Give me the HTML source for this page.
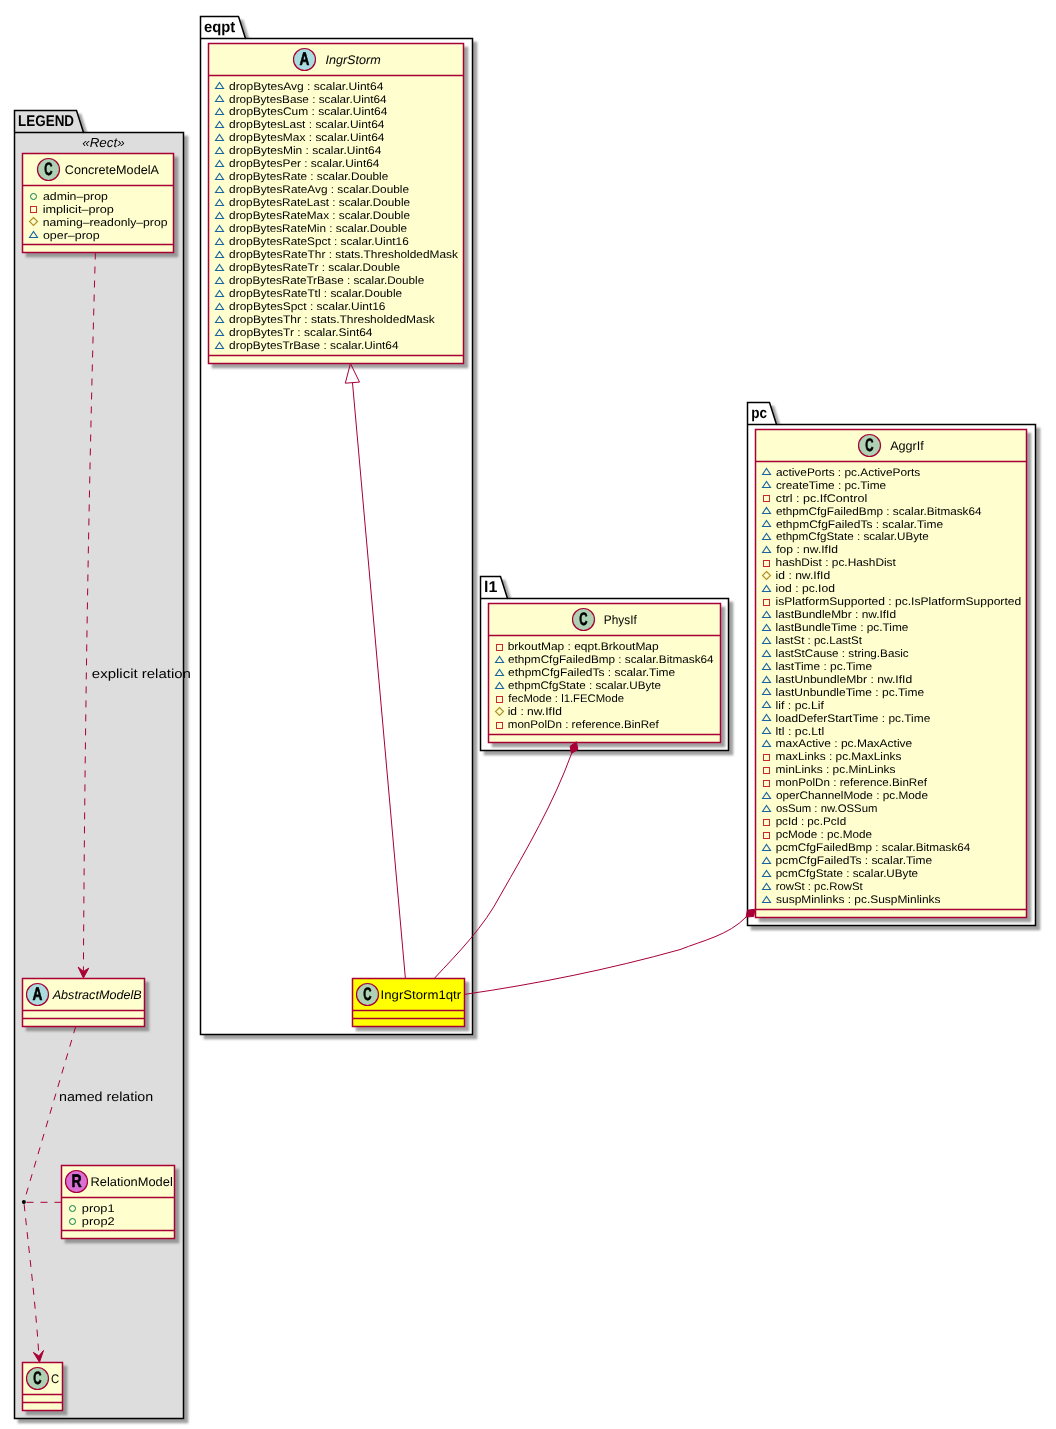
<!DOCTYPE html>
<html><head><meta charset="utf-8"><style>html,body{margin:0;padding:0;background:#fff;}svg{display:block;will-change:transform;}text{text-rendering:geometricPrecision;}</style></head>
<body><svg width="1056" height="1429" viewBox="0 0 1056 1429">
<defs><filter id="sh" color-interpolation-filters="sRGB" x="-20%" y="-20%" width="140%" height="140%"><feGaussianBlur in="SourceAlpha" stdDeviation="0.9"/><feColorMatrix type="matrix" values="0 0 0 0 0.47 0 0 0 0 0.47 0 0 0 0 0.47 0 0 0 .7 0"/><feOffset dx="4" dy="4" result="s"/><feMerge><feMergeNode in="s"/><feMergeNode in="SourceGraphic"/></feMerge></filter></defs>
<rect x="0" y="0" width="1056" height="1429" fill="#FFFFFF"/>
<path d="M14.5,110.5 L76.5,110.5 L83.5,132.5 L183.5,132.5 L183.5,1418.5 L14.5,1418.5 Z" fill="#DDDDDD" stroke="#000000" stroke-width="1.5" filter="url(#sh)"/>
<line x1="14.5" y1="132.5" x2="83.5" y2="132.5" stroke="#000000" stroke-width="1.5"/>
<text x="18.11" y="125.85" font-size="15.5" style="font-family:&quot;Liberation Sans&quot;,sans-serif;font-weight:bold;" fill="#000000" textLength="55.94" lengthAdjust="spacingAndGlyphs">LEGEND</text>
<text x="82.20" y="147.30" font-size="13" style="font-family:&quot;Liberation Sans&quot;,sans-serif;font-style:italic;" fill="#000000" textLength="42.40" lengthAdjust="spacingAndGlyphs">«Rect»</text>
<path d="M200.5,16.5 L238.5,16.5 L245.5,38.5 L472.5,38.5 L472.5,1034.5 L200.5,1034.5 Z" fill="#FFFFFF" stroke="#000000" stroke-width="1.5" filter="url(#sh)"/>
<line x1="200.5" y1="38.5" x2="245.5" y2="38.5" stroke="#000000" stroke-width="1.5"/>
<text x="203.92" y="31.80" font-size="15.5" style="font-family:&quot;Liberation Sans&quot;,sans-serif;font-weight:bold;" fill="#000000" textLength="31.25" lengthAdjust="spacingAndGlyphs">eqpt</text>
<path d="M480.5,576.5 L500.5,576.5 L507.5,598.5 L728.5,598.5 L728.5,750.5 L480.5,750.5 Z" fill="#FFFFFF" stroke="#000000" stroke-width="1.5" filter="url(#sh)"/>
<line x1="480.5" y1="598.5" x2="507.5" y2="598.5" stroke="#000000" stroke-width="1.5"/>
<text x="484.10" y="592.00" font-size="15.5" style="font-family:&quot;Liberation Sans&quot;,sans-serif;font-weight:bold;" fill="#000000" textLength="13.33" lengthAdjust="spacingAndGlyphs">l1</text>
<path d="M747.5,402.5 L769.5,402.5 L776.5,424.5 L1035.5,424.5 L1035.5,925.5 L747.5,925.5 Z" fill="#FFFFFF" stroke="#000000" stroke-width="1.5" filter="url(#sh)"/>
<line x1="747.5" y1="424.5" x2="776.5" y2="424.5" stroke="#000000" stroke-width="1.5"/>
<text x="751.32" y="418.00" font-size="15.5" style="font-family:&quot;Liberation Sans&quot;,sans-serif;font-weight:bold;" fill="#000000" textLength="15.77" lengthAdjust="spacingAndGlyphs">pc</text>
<rect x="22.5" y="153.5" width="151.0" height="99.0" fill="#FEFECE" stroke="#A80036" stroke-width="1.5" filter="url(#sh)"/>
<line x1="22.5" y1="185.5" x2="173.5" y2="185.5" stroke="#A80036" stroke-width="1.5"/>
<line x1="22.5" y1="244.5" x2="173.5" y2="244.5" stroke="#A80036" stroke-width="1.5"/>
<circle cx="48.5" cy="169.5" r="11" fill="#ADD1B2" stroke="#A80036" stroke-width="1.2"/>
<text x="0" y="174.8" font-size="18" text-anchor="middle" stroke="#000" stroke-width="0.6" style="font-family:&quot;Liberation Sans&quot;,sans-serif;font-weight:bold;" transform="translate(48.5,0) scale(0.64,1)">C</text>
<text x="64.87" y="173.75" font-size="12.5" style="font-family:&quot;Liberation Sans&quot;,sans-serif;" fill="#000000" textLength="94.06" lengthAdjust="spacingAndGlyphs">ConcreteModelA</text>
<circle cx="33.5" cy="196.5" r="3" fill="none" stroke="#038048" stroke-width="1"/>
<text x="42.98" y="199.66" font-size="11" style="font-family:&quot;Liberation Sans&quot;,sans-serif;" fill="#000000" textLength="64.92" lengthAdjust="spacingAndGlyphs">admin–prop</text>
<rect x="30.5" y="206.5" width="6" height="6" fill="none" stroke="#C82930" stroke-width="1"/>
<text x="42.66" y="212.66" font-size="11" style="font-family:&quot;Liberation Sans&quot;,sans-serif;" fill="#000000" textLength="71.26" lengthAdjust="spacingAndGlyphs">implicit–prop</text>
<polygon points="33.5,217.5 37.5,221.5 33.5,225.5 29.5,221.5" fill="none" stroke="#B38D22" stroke-width="1.1"/>
<text x="42.69" y="225.66" font-size="11" style="font-family:&quot;Liberation Sans&quot;,sans-serif;" fill="#000000" textLength="124.81" lengthAdjust="spacingAndGlyphs">naming–readonly–prop</text>
<polygon points="29.5,237.5 33.5,231.5 37.5,237.5" fill="none" stroke="#1963A0" stroke-width="1.1"/>
<text x="42.98" y="238.66" font-size="11" style="font-family:&quot;Liberation Sans&quot;,sans-serif;" fill="#000000" textLength="56.63" lengthAdjust="spacingAndGlyphs">oper–prop</text>
<rect x="22.5" y="978.5" width="122.0" height="48.0" fill="#FEFECE" stroke="#A80036" stroke-width="1.5" filter="url(#sh)"/>
<line x1="22.5" y1="1010.5" x2="144.5" y2="1010.5" stroke="#A80036" stroke-width="1.5"/>
<line x1="22.5" y1="1018.5" x2="144.5" y2="1018.5" stroke="#A80036" stroke-width="1.5"/>
<circle cx="37.5" cy="994.5" r="11" fill="#A9DCDF" stroke="#A80036" stroke-width="1.2"/>
<text x="0" y="999.85" font-size="18" text-anchor="middle" stroke="#000" stroke-width="0.6" style="font-family:&quot;Liberation Sans&quot;,sans-serif;font-weight:bold;" transform="translate(37.5,0) scale(0.76,1)">A</text>
<text x="52.73" y="998.50" font-size="12.5" style="font-family:&quot;Liberation Sans&quot;,sans-serif;font-style:italic;" fill="#000000" textLength="88.89" lengthAdjust="spacingAndGlyphs">AbstractModelB</text>
<rect x="61.5" y="1165.5" width="113.0" height="73.0" fill="#FEFECE" stroke="#A80036" stroke-width="1.5" filter="url(#sh)"/>
<line x1="61.5" y1="1197.5" x2="174.5" y2="1197.5" stroke="#A80036" stroke-width="1.5"/>
<line x1="61.5" y1="1230.5" x2="174.5" y2="1230.5" stroke="#A80036" stroke-width="1.5"/>
<circle cx="76.5" cy="1181.5" r="11" fill="#DA70D6" stroke="#A80036" stroke-width="1.2"/>
<text x="0" y="1187.0" font-size="18" text-anchor="middle" stroke="#000" stroke-width="0.6" style="font-family:&quot;Liberation Sans&quot;,sans-serif;font-weight:bold;" transform="translate(76.5,0) scale(0.78,1)">R</text>
<text x="90.55" y="1186.00" font-size="12.5" style="font-family:&quot;Liberation Sans&quot;,sans-serif;" fill="#000000" textLength="82.21" lengthAdjust="spacingAndGlyphs">RelationModel</text>
<circle cx="72.5" cy="1208.5" r="3" fill="none" stroke="#038048" stroke-width="1"/>
<text x="81.88" y="1211.60" font-size="11" style="font-family:&quot;Liberation Sans&quot;,sans-serif;" fill="#000000" textLength="32.74" lengthAdjust="spacingAndGlyphs">prop1</text>
<circle cx="72.5" cy="1221.5" r="3" fill="none" stroke="#038048" stroke-width="1"/>
<text x="81.88" y="1224.60" font-size="11" style="font-family:&quot;Liberation Sans&quot;,sans-serif;" fill="#000000" textLength="32.77" lengthAdjust="spacingAndGlyphs">prop2</text>
<rect x="22.5" y="1362.5" width="40.0" height="48.0" fill="#FEFECE" stroke="#A80036" stroke-width="1.5" filter="url(#sh)"/>
<line x1="22.5" y1="1394.5" x2="62.5" y2="1394.5" stroke="#A80036" stroke-width="1.5"/>
<line x1="22.5" y1="1402.5" x2="62.5" y2="1402.5" stroke="#A80036" stroke-width="1.5"/>
<circle cx="37.5" cy="1378.5" r="11" fill="#ADD1B2" stroke="#A80036" stroke-width="1.2"/>
<text x="0" y="1383.8" font-size="18" text-anchor="middle" stroke="#000" stroke-width="0.6" style="font-family:&quot;Liberation Sans&quot;,sans-serif;font-weight:bold;" transform="translate(37.5,0) scale(0.64,1)">C</text>
<text x="50.93" y="1382.70" font-size="12.5" style="font-family:&quot;Liberation Sans&quot;,sans-serif;" fill="#000000" textLength="8.19" lengthAdjust="spacingAndGlyphs">C</text>
<rect x="208.5" y="43.5" width="255.0" height="320.0" fill="#FEFECE" stroke="#A80036" stroke-width="1.5" filter="url(#sh)"/>
<line x1="208.5" y1="75.5" x2="463.5" y2="75.5" stroke="#A80036" stroke-width="1.5"/>
<line x1="208.5" y1="355.5" x2="463.5" y2="355.5" stroke="#A80036" stroke-width="1.5"/>
<circle cx="304.5" cy="59.5" r="11" fill="#A9DCDF" stroke="#A80036" stroke-width="1.2"/>
<text x="0" y="64.85" font-size="18" text-anchor="middle" stroke="#000" stroke-width="0.6" style="font-family:&quot;Liberation Sans&quot;,sans-serif;font-weight:bold;" transform="translate(304.5,0) scale(0.76,1)">A</text>
<text x="325.41" y="64.10" font-size="12.5" style="font-family:&quot;Liberation Sans&quot;,sans-serif;font-style:italic;" fill="#000000" textLength="55.27" lengthAdjust="spacingAndGlyphs">IngrStorm</text>
<polygon points="215.5,88.5 219.5,82.5 223.5,88.5" fill="none" stroke="#1963A0" stroke-width="1.1"/>
<text x="229.09" y="89.55" font-size="11" style="font-family:&quot;Liberation Sans&quot;,sans-serif;" fill="#000000" textLength="154.25" lengthAdjust="spacingAndGlyphs">dropBytesAvg : scalar.Uint64</text>
<polygon points="215.5,101.5 219.5,95.5 223.5,101.5" fill="none" stroke="#1963A0" stroke-width="1.1"/>
<text x="229.11" y="102.51" font-size="11" style="font-family:&quot;Liberation Sans&quot;,sans-serif;" fill="#000000" textLength="157.54" lengthAdjust="spacingAndGlyphs">dropBytesBase : scalar.Uint64</text>
<polygon points="215.5,114.5 219.5,108.5 223.5,114.5" fill="none" stroke="#1963A0" stroke-width="1.1"/>
<text x="229.10" y="115.47" font-size="11" style="font-family:&quot;Liberation Sans&quot;,sans-serif;" fill="#000000" textLength="158.25" lengthAdjust="spacingAndGlyphs">dropBytesCum : scalar.Uint64</text>
<polygon points="215.5,127.5 219.5,121.5 223.5,127.5" fill="none" stroke="#1963A0" stroke-width="1.1"/>
<text x="229.10" y="128.42" font-size="11" style="font-family:&quot;Liberation Sans&quot;,sans-serif;" fill="#000000" textLength="155.35" lengthAdjust="spacingAndGlyphs">dropBytesLast : scalar.Uint64</text>
<polygon points="215.5,140.5 219.5,134.5 223.5,140.5" fill="none" stroke="#1963A0" stroke-width="1.1"/>
<text x="229.10" y="141.38" font-size="11" style="font-family:&quot;Liberation Sans&quot;,sans-serif;" fill="#000000" textLength="155.35" lengthAdjust="spacingAndGlyphs">dropBytesMax : scalar.Uint64</text>
<polygon points="215.5,153.5 219.5,147.5 223.5,153.5" fill="none" stroke="#1963A0" stroke-width="1.1"/>
<text x="229.10" y="154.34" font-size="11" style="font-family:&quot;Liberation Sans&quot;,sans-serif;" fill="#000000" textLength="152.25" lengthAdjust="spacingAndGlyphs">dropBytesMin : scalar.Uint64</text>
<polygon points="215.5,166.5 219.5,160.5 223.5,166.5" fill="none" stroke="#1963A0" stroke-width="1.1"/>
<text x="229.10" y="167.30" font-size="11" style="font-family:&quot;Liberation Sans&quot;,sans-serif;" fill="#000000" textLength="150.34" lengthAdjust="spacingAndGlyphs">dropBytesPer : scalar.Uint64</text>
<polygon points="215.5,179.5 219.5,173.5 223.5,179.5" fill="none" stroke="#1963A0" stroke-width="1.1"/>
<text x="229.11" y="180.26" font-size="11" style="font-family:&quot;Liberation Sans&quot;,sans-serif;" fill="#000000" textLength="159.12" lengthAdjust="spacingAndGlyphs">dropBytesRate : scalar.Double</text>
<polygon points="215.5,192.5 219.5,186.5 223.5,192.5" fill="none" stroke="#1963A0" stroke-width="1.1"/>
<text x="229.10" y="193.21" font-size="11" style="font-family:&quot;Liberation Sans&quot;,sans-serif;" fill="#000000" textLength="179.92" lengthAdjust="spacingAndGlyphs">dropBytesRateAvg : scalar.Double</text>
<polygon points="215.5,205.5 219.5,199.5 223.5,205.5" fill="none" stroke="#1963A0" stroke-width="1.1"/>
<text x="229.11" y="206.17" font-size="11" style="font-family:&quot;Liberation Sans&quot;,sans-serif;" fill="#000000" textLength="180.92" lengthAdjust="spacingAndGlyphs">dropBytesRateLast : scalar.Double</text>
<polygon points="215.5,218.5 219.5,212.5 223.5,218.5" fill="none" stroke="#1963A0" stroke-width="1.1"/>
<text x="229.11" y="219.13" font-size="11" style="font-family:&quot;Liberation Sans&quot;,sans-serif;" fill="#000000" textLength="180.92" lengthAdjust="spacingAndGlyphs">dropBytesRateMax : scalar.Double</text>
<polygon points="215.5,231.5 219.5,225.5 223.5,231.5" fill="none" stroke="#1963A0" stroke-width="1.1"/>
<text x="229.11" y="232.09" font-size="11" style="font-family:&quot;Liberation Sans&quot;,sans-serif;" fill="#000000" textLength="178.01" lengthAdjust="spacingAndGlyphs">dropBytesRateMin : scalar.Double</text>
<polygon points="215.5,244.5 219.5,238.5 223.5,244.5" fill="none" stroke="#1963A0" stroke-width="1.1"/>
<text x="229.10" y="245.05" font-size="11" style="font-family:&quot;Liberation Sans&quot;,sans-serif;" fill="#000000" textLength="179.60" lengthAdjust="spacingAndGlyphs">dropBytesRateSpct : scalar.Uint16</text>
<polygon points="215.5,257.5 219.5,251.5 223.5,257.5" fill="none" stroke="#1963A0" stroke-width="1.1"/>
<text x="229.10" y="258.00" font-size="11" style="font-family:&quot;Liberation Sans&quot;,sans-serif;" fill="#000000" textLength="228.78" lengthAdjust="spacingAndGlyphs">dropBytesRateThr : stats.ThresholdedMask</text>
<polygon points="215.5,270.5 219.5,264.5 223.5,270.5" fill="none" stroke="#1963A0" stroke-width="1.1"/>
<text x="229.10" y="270.96" font-size="11" style="font-family:&quot;Liberation Sans&quot;,sans-serif;" fill="#000000" textLength="171.02" lengthAdjust="spacingAndGlyphs">dropBytesRateTr : scalar.Double</text>
<polygon points="215.5,283.5 219.5,277.5 223.5,283.5" fill="none" stroke="#1963A0" stroke-width="1.1"/>
<text x="229.11" y="283.92" font-size="11" style="font-family:&quot;Liberation Sans&quot;,sans-serif;" fill="#000000" textLength="195.11" lengthAdjust="spacingAndGlyphs">dropBytesRateTrBase : scalar.Double</text>
<polygon points="215.5,296.5 219.5,290.5 223.5,296.5" fill="none" stroke="#1963A0" stroke-width="1.1"/>
<text x="229.10" y="296.88" font-size="11" style="font-family:&quot;Liberation Sans&quot;,sans-serif;" fill="#000000" textLength="173.02" lengthAdjust="spacingAndGlyphs">dropBytesRateTtl : scalar.Double</text>
<polygon points="215.5,309.5 219.5,303.5 223.5,309.5" fill="none" stroke="#1963A0" stroke-width="1.1"/>
<text x="229.10" y="309.84" font-size="11" style="font-family:&quot;Liberation Sans&quot;,sans-serif;" fill="#000000" textLength="156.41" lengthAdjust="spacingAndGlyphs">dropBytesSpct : scalar.Uint16</text>
<polygon points="215.5,322.5 219.5,316.5 223.5,322.5" fill="none" stroke="#1963A0" stroke-width="1.1"/>
<text x="229.10" y="322.79" font-size="11" style="font-family:&quot;Liberation Sans&quot;,sans-serif;" fill="#000000" textLength="205.58" lengthAdjust="spacingAndGlyphs">dropBytesThr : stats.ThresholdedMask</text>
<polygon points="215.5,335.5 219.5,329.5 223.5,335.5" fill="none" stroke="#1963A0" stroke-width="1.1"/>
<text x="229.10" y="335.75" font-size="11" style="font-family:&quot;Liberation Sans&quot;,sans-serif;" fill="#000000" textLength="143.45" lengthAdjust="spacingAndGlyphs">dropBytesTr : scalar.Sint64</text>
<polygon points="215.5,348.5 219.5,342.5 223.5,348.5" fill="none" stroke="#1963A0" stroke-width="1.1"/>
<text x="229.10" y="348.71" font-size="11" style="font-family:&quot;Liberation Sans&quot;,sans-serif;" fill="#000000" textLength="169.44" lengthAdjust="spacingAndGlyphs">dropBytesTrBase : scalar.Uint64</text>
<rect x="352.5" y="978.5" width="112.0" height="48.0" fill="#FFFF00" stroke="#A80036" stroke-width="1.5" filter="url(#sh)"/>
<line x1="352.5" y1="1010.5" x2="464.5" y2="1010.5" stroke="#A80036" stroke-width="1.5"/>
<line x1="352.5" y1="1018.5" x2="464.5" y2="1018.5" stroke="#A80036" stroke-width="1.5"/>
<circle cx="367.5" cy="994.5" r="11" fill="#ADD1B2" stroke="#A80036" stroke-width="1.2"/>
<text x="0" y="999.8" font-size="18" text-anchor="middle" stroke="#000" stroke-width="0.6" style="font-family:&quot;Liberation Sans&quot;,sans-serif;font-weight:bold;" transform="translate(367.5,0) scale(0.64,1)">C</text>
<text x="380.59" y="998.70" font-size="12.5" style="font-family:&quot;Liberation Sans&quot;,sans-serif;" fill="#000000" textLength="80.53" lengthAdjust="spacingAndGlyphs">IngrStorm1qtr</text>
<rect x="488.5" y="603.5" width="232.0" height="139.0" fill="#FEFECE" stroke="#A80036" stroke-width="1.5" filter="url(#sh)"/>
<line x1="488.5" y1="635.5" x2="720.5" y2="635.5" stroke="#A80036" stroke-width="1.5"/>
<line x1="488.5" y1="734.5" x2="720.5" y2="734.5" stroke="#A80036" stroke-width="1.5"/>
<circle cx="583.5" cy="619.5" r="11" fill="#ADD1B2" stroke="#A80036" stroke-width="1.2"/>
<text x="0" y="624.8" font-size="18" text-anchor="middle" stroke="#000" stroke-width="0.6" style="font-family:&quot;Liberation Sans&quot;,sans-serif;font-weight:bold;" transform="translate(583.5,0) scale(0.64,1)">C</text>
<text x="603.83" y="623.60" font-size="12.5" style="font-family:&quot;Liberation Sans&quot;,sans-serif;" fill="#000000" textLength="32.95" lengthAdjust="spacingAndGlyphs">PhysIf</text>
<rect x="496.5" y="644.5" width="6" height="6" fill="none" stroke="#C82930" stroke-width="1"/>
<text x="507.73" y="649.80" font-size="11" style="font-family:&quot;Liberation Sans&quot;,sans-serif;" fill="#000000" textLength="150.95" lengthAdjust="spacingAndGlyphs">brkoutMap : eqpt.BrkoutMap</text>
<polygon points="495.5,662.5 499.5,656.5 503.5,662.5" fill="none" stroke="#1963A0" stroke-width="1.1"/>
<text x="508.01" y="662.78" font-size="11" style="font-family:&quot;Liberation Sans&quot;,sans-serif;" fill="#000000" textLength="205.64" lengthAdjust="spacingAndGlyphs">ethpmCfgFailedBmp : scalar.Bitmask64</text>
<polygon points="495.5,675.5 499.5,669.5 503.5,675.5" fill="none" stroke="#1963A0" stroke-width="1.1"/>
<text x="508.00" y="675.76" font-size="11" style="font-family:&quot;Liberation Sans&quot;,sans-serif;" fill="#000000" textLength="167.23" lengthAdjust="spacingAndGlyphs">ethpmCfgFailedTs : scalar.Time</text>
<polygon points="495.5,688.5 499.5,682.5 503.5,688.5" fill="none" stroke="#1963A0" stroke-width="1.1"/>
<text x="508.01" y="688.74" font-size="11" style="font-family:&quot;Liberation Sans&quot;,sans-serif;" fill="#000000" textLength="153.01" lengthAdjust="spacingAndGlyphs">ethpmCfgState : scalar.UByte</text>
<rect x="496.5" y="696.5" width="6" height="6" fill="none" stroke="#C82930" stroke-width="1"/>
<text x="508.34" y="701.72" font-size="11" style="font-family:&quot;Liberation Sans&quot;,sans-serif;" fill="#000000" textLength="115.66" lengthAdjust="spacingAndGlyphs">fecMode : l1.FECMode</text>
<polygon points="499.5,707.5 503.5,711.5 499.5,715.5 495.5,711.5" fill="none" stroke="#B38D22" stroke-width="1.1"/>
<text x="507.70" y="714.70" font-size="11" style="font-family:&quot;Liberation Sans&quot;,sans-serif;" fill="#000000" textLength="54.27" lengthAdjust="spacingAndGlyphs">id : nw.IfId</text>
<rect x="496.5" y="722.5" width="6" height="6" fill="none" stroke="#C82930" stroke-width="1"/>
<text x="507.73" y="727.68" font-size="11" style="font-family:&quot;Liberation Sans&quot;,sans-serif;" fill="#000000" textLength="151.04" lengthAdjust="spacingAndGlyphs">monPolDn : reference.BinRef</text>
<rect x="755.5" y="429.5" width="271.0" height="488.0" fill="#FEFECE" stroke="#A80036" stroke-width="1.5" filter="url(#sh)"/>
<line x1="755.5" y1="461.5" x2="1026.5" y2="461.5" stroke="#A80036" stroke-width="1.5"/>
<line x1="755.5" y1="909.5" x2="1026.5" y2="909.5" stroke="#A80036" stroke-width="1.5"/>
<circle cx="869.5" cy="445.5" r="11" fill="#ADD1B2" stroke="#A80036" stroke-width="1.2"/>
<text x="0" y="450.8" font-size="18" text-anchor="middle" stroke="#000" stroke-width="0.6" style="font-family:&quot;Liberation Sans&quot;,sans-serif;font-weight:bold;" transform="translate(869.5,0) scale(0.64,1)">C</text>
<text x="890.17" y="449.80" font-size="12.5" style="font-family:&quot;Liberation Sans&quot;,sans-serif;" fill="#000000" textLength="33.70" lengthAdjust="spacingAndGlyphs">AggrIf</text>
<polygon points="762.5,474.5 766.5,468.5 770.5,474.5" fill="none" stroke="#1963A0" stroke-width="1.1"/>
<text x="775.90" y="475.80" font-size="11" style="font-family:&quot;Liberation Sans&quot;,sans-serif;" fill="#000000" textLength="144.42" lengthAdjust="spacingAndGlyphs">activePorts : pc.ActivePorts</text>
<polygon points="762.5,487.5 766.5,481.5 770.5,487.5" fill="none" stroke="#1963A0" stroke-width="1.1"/>
<text x="775.90" y="488.74" font-size="11" style="font-family:&quot;Liberation Sans&quot;,sans-serif;" fill="#000000" textLength="110.22" lengthAdjust="spacingAndGlyphs">createTime : pc.Time</text>
<rect x="763.5" y="495.5" width="6" height="6" fill="none" stroke="#C82930" stroke-width="1"/>
<text x="775.87" y="501.67" font-size="11" style="font-family:&quot;Liberation Sans&quot;,sans-serif;" fill="#000000" textLength="91.35" lengthAdjust="spacingAndGlyphs">ctrl : pc.IfControl</text>
<polygon points="762.5,513.5 766.5,507.5 770.5,513.5" fill="none" stroke="#1963A0" stroke-width="1.1"/>
<text x="775.91" y="514.61" font-size="11" style="font-family:&quot;Liberation Sans&quot;,sans-serif;" fill="#000000" textLength="205.64" lengthAdjust="spacingAndGlyphs">ethpmCfgFailedBmp : scalar.Bitmask64</text>
<polygon points="762.5,526.5 766.5,520.5 770.5,526.5" fill="none" stroke="#1963A0" stroke-width="1.1"/>
<text x="775.90" y="527.54" font-size="11" style="font-family:&quot;Liberation Sans&quot;,sans-serif;" fill="#000000" textLength="167.23" lengthAdjust="spacingAndGlyphs">ethpmCfgFailedTs : scalar.Time</text>
<polygon points="762.5,539.5 766.5,533.5 770.5,539.5" fill="none" stroke="#1963A0" stroke-width="1.1"/>
<text x="775.91" y="540.48" font-size="11" style="font-family:&quot;Liberation Sans&quot;,sans-serif;" fill="#000000" textLength="152.91" lengthAdjust="spacingAndGlyphs">ethpmCfgState : scalar.UByte</text>
<polygon points="762.5,552.5 766.5,546.5 770.5,552.5" fill="none" stroke="#1963A0" stroke-width="1.1"/>
<text x="776.23" y="553.42" font-size="11" style="font-family:&quot;Liberation Sans&quot;,sans-serif;" fill="#000000" textLength="61.85" lengthAdjust="spacingAndGlyphs">fop : nw.IfId</text>
<rect x="763.5" y="560.5" width="6" height="6" fill="none" stroke="#C82930" stroke-width="1"/>
<text x="775.58" y="566.35" font-size="11" style="font-family:&quot;Liberation Sans&quot;,sans-serif;" fill="#000000" textLength="120.30" lengthAdjust="spacingAndGlyphs">hashDist : pc.HashDist</text>
<polygon points="766.5,571.5 770.5,575.5 766.5,579.5 762.5,575.5" fill="none" stroke="#B38D22" stroke-width="1.1"/>
<text x="775.60" y="579.29" font-size="11" style="font-family:&quot;Liberation Sans&quot;,sans-serif;" fill="#000000" textLength="54.58" lengthAdjust="spacingAndGlyphs">id : nw.IfId</text>
<polygon points="762.5,591.5 766.5,585.5 770.5,591.5" fill="none" stroke="#1963A0" stroke-width="1.1"/>
<text x="775.60" y="592.22" font-size="11" style="font-family:&quot;Liberation Sans&quot;,sans-serif;" fill="#000000" textLength="59.38" lengthAdjust="spacingAndGlyphs">iod : pc.Iod</text>
<rect x="763.5" y="599.5" width="6" height="6" fill="none" stroke="#C82930" stroke-width="1"/>
<text x="775.60" y="605.16" font-size="11" style="font-family:&quot;Liberation Sans&quot;,sans-serif;" fill="#000000" textLength="245.57" lengthAdjust="spacingAndGlyphs">isPlatformSupported : pc.IsPlatformSupported</text>
<polygon points="762.5,617.5 766.5,611.5 770.5,617.5" fill="none" stroke="#1963A0" stroke-width="1.1"/>
<text x="775.60" y="618.10" font-size="11" style="font-family:&quot;Liberation Sans&quot;,sans-serif;" fill="#000000" textLength="120.46" lengthAdjust="spacingAndGlyphs">lastBundleMbr : nw.IfId</text>
<polygon points="762.5,630.5 766.5,624.5 770.5,630.5" fill="none" stroke="#1963A0" stroke-width="1.1"/>
<text x="775.61" y="631.03" font-size="11" style="font-family:&quot;Liberation Sans&quot;,sans-serif;" fill="#000000" textLength="132.82" lengthAdjust="spacingAndGlyphs">lastBundleTime : pc.Time</text>
<polygon points="762.5,643.5 766.5,637.5 770.5,643.5" fill="none" stroke="#1963A0" stroke-width="1.1"/>
<text x="775.63" y="643.97" font-size="11" style="font-family:&quot;Liberation Sans&quot;,sans-serif;" fill="#000000" textLength="86.24" lengthAdjust="spacingAndGlyphs">lastSt : pc.LastSt</text>
<polygon points="762.5,656.5 766.5,650.5 770.5,656.5" fill="none" stroke="#1963A0" stroke-width="1.1"/>
<text x="775.62" y="656.90" font-size="11" style="font-family:&quot;Liberation Sans&quot;,sans-serif;" fill="#000000" textLength="133.08" lengthAdjust="spacingAndGlyphs">lastStCause : string.Basic</text>
<polygon points="762.5,669.5 766.5,663.5 770.5,669.5" fill="none" stroke="#1963A0" stroke-width="1.1"/>
<text x="775.60" y="669.84" font-size="11" style="font-family:&quot;Liberation Sans&quot;,sans-serif;" fill="#000000" textLength="96.42" lengthAdjust="spacingAndGlyphs">lastTime : pc.Time</text>
<polygon points="762.5,682.5 766.5,676.5 770.5,682.5" fill="none" stroke="#1963A0" stroke-width="1.1"/>
<text x="775.59" y="682.78" font-size="11" style="font-family:&quot;Liberation Sans&quot;,sans-serif;" fill="#000000" textLength="136.58" lengthAdjust="spacingAndGlyphs">lastUnbundleMbr : nw.IfId</text>
<polygon points="762.5,694.5 766.5,688.5 770.5,694.5" fill="none" stroke="#1963A0" stroke-width="1.1"/>
<text x="775.60" y="695.71" font-size="11" style="font-family:&quot;Liberation Sans&quot;,sans-serif;" fill="#000000" textLength="148.63" lengthAdjust="spacingAndGlyphs">lastUnbundleTime : pc.Time</text>
<polygon points="762.5,707.5 766.5,701.5 770.5,707.5" fill="none" stroke="#1963A0" stroke-width="1.1"/>
<text x="775.58" y="708.65" font-size="11" style="font-family:&quot;Liberation Sans&quot;,sans-serif;" fill="#000000" textLength="48.39" lengthAdjust="spacingAndGlyphs">lif : pc.Lif</text>
<polygon points="762.5,720.5 766.5,714.5 770.5,720.5" fill="none" stroke="#1963A0" stroke-width="1.1"/>
<text x="775.60" y="721.58" font-size="11" style="font-family:&quot;Liberation Sans&quot;,sans-serif;" fill="#000000" textLength="154.73" lengthAdjust="spacingAndGlyphs">loadDeferStartTime : pc.Time</text>
<polygon points="762.5,733.5 766.5,727.5 770.5,733.5" fill="none" stroke="#1963A0" stroke-width="1.1"/>
<text x="775.57" y="734.52" font-size="11" style="font-family:&quot;Liberation Sans&quot;,sans-serif;" fill="#000000" textLength="48.74" lengthAdjust="spacingAndGlyphs">ltl : pc.Ltl</text>
<polygon points="762.5,746.5 766.5,740.5 770.5,746.5" fill="none" stroke="#1963A0" stroke-width="1.1"/>
<text x="775.61" y="747.46" font-size="11" style="font-family:&quot;Liberation Sans&quot;,sans-serif;" fill="#000000" textLength="136.62" lengthAdjust="spacingAndGlyphs">maxActive : pc.MaxActive</text>
<rect x="763.5" y="754.5" width="6" height="6" fill="none" stroke="#C82930" stroke-width="1"/>
<text x="775.62" y="760.39" font-size="11" style="font-family:&quot;Liberation Sans&quot;,sans-serif;" fill="#000000" textLength="125.81" lengthAdjust="spacingAndGlyphs">maxLinks : pc.MaxLinks</text>
<rect x="763.5" y="767.5" width="6" height="6" fill="none" stroke="#C82930" stroke-width="1"/>
<text x="775.61" y="773.33" font-size="11" style="font-family:&quot;Liberation Sans&quot;,sans-serif;" fill="#000000" textLength="119.92" lengthAdjust="spacingAndGlyphs">minLinks : pc.MinLinks</text>
<rect x="763.5" y="780.5" width="6" height="6" fill="none" stroke="#C82930" stroke-width="1"/>
<text x="775.63" y="786.26" font-size="11" style="font-family:&quot;Liberation Sans&quot;,sans-serif;" fill="#000000" textLength="151.34" lengthAdjust="spacingAndGlyphs">monPolDn : reference.BinRef</text>
<polygon points="762.5,798.5 766.5,792.5 770.5,798.5" fill="none" stroke="#1963A0" stroke-width="1.1"/>
<text x="775.90" y="799.20" font-size="11" style="font-family:&quot;Liberation Sans&quot;,sans-serif;" fill="#000000" textLength="152.11" lengthAdjust="spacingAndGlyphs">operChannelMode : pc.Mode</text>
<polygon points="762.5,811.5 766.5,805.5 770.5,811.5" fill="none" stroke="#1963A0" stroke-width="1.1"/>
<text x="775.92" y="812.14" font-size="11" style="font-family:&quot;Liberation Sans&quot;,sans-serif;" fill="#000000" textLength="101.51" lengthAdjust="spacingAndGlyphs">osSum : nw.OSSum</text>
<rect x="763.5" y="819.5" width="6" height="6" fill="none" stroke="#C82930" stroke-width="1"/>
<text x="775.65" y="825.07" font-size="11" style="font-family:&quot;Liberation Sans&quot;,sans-serif;" fill="#000000" textLength="70.60" lengthAdjust="spacingAndGlyphs">pcId : pc.PcId</text>
<rect x="763.5" y="832.5" width="6" height="6" fill="none" stroke="#C82930" stroke-width="1"/>
<text x="775.65" y="838.01" font-size="11" style="font-family:&quot;Liberation Sans&quot;,sans-serif;" fill="#000000" textLength="96.37" lengthAdjust="spacingAndGlyphs">pcMode : pc.Mode</text>
<polygon points="762.5,850.5 766.5,844.5 770.5,850.5" fill="none" stroke="#1963A0" stroke-width="1.1"/>
<text x="775.65" y="850.94" font-size="11" style="font-family:&quot;Liberation Sans&quot;,sans-serif;" fill="#000000" textLength="194.69" lengthAdjust="spacingAndGlyphs">pcmCfgFailedBmp : scalar.Bitmask64</text>
<polygon points="762.5,863.5 766.5,857.5 770.5,863.5" fill="none" stroke="#1963A0" stroke-width="1.1"/>
<text x="775.63" y="863.88" font-size="11" style="font-family:&quot;Liberation Sans&quot;,sans-serif;" fill="#000000" textLength="156.49" lengthAdjust="spacingAndGlyphs">pcmCfgFailedTs : scalar.Time</text>
<polygon points="762.5,876.5 766.5,870.5 770.5,876.5" fill="none" stroke="#1963A0" stroke-width="1.1"/>
<text x="775.65" y="876.82" font-size="11" style="font-family:&quot;Liberation Sans&quot;,sans-serif;" fill="#000000" textLength="142.46" lengthAdjust="spacingAndGlyphs">pcmCfgState : scalar.UByte</text>
<polygon points="762.5,889.5 766.5,883.5 770.5,889.5" fill="none" stroke="#1963A0" stroke-width="1.1"/>
<text x="775.65" y="889.75" font-size="11" style="font-family:&quot;Liberation Sans&quot;,sans-serif;" fill="#000000" textLength="87.03" lengthAdjust="spacingAndGlyphs">rowSt : pc.RowSt</text>
<polygon points="762.5,902.5 766.5,896.5 770.5,902.5" fill="none" stroke="#1963A0" stroke-width="1.1"/>
<text x="776.08" y="902.69" font-size="11" style="font-family:&quot;Liberation Sans&quot;,sans-serif;" fill="#000000" textLength="164.45" lengthAdjust="spacingAndGlyphs">suspMinlinks : pc.SuspMinlinks</text>
<path d="M95.4,252.5 C88.4,492.3 84.8,731.5 83.4,971.5" fill="none" stroke="#A80036" stroke-width="1" stroke-dasharray="7,7"/>
<polygon points="83.4,978 78.1,967 83.4,971.5 88.7,968.2" fill="#A80036" stroke="#A80036" stroke-width="1"/>
<text x="91.87" y="677.60" font-size="13" style="font-family:&quot;Liberation Sans&quot;,sans-serif;" fill="#000000" textLength="99.09" lengthAdjust="spacingAndGlyphs">explicit relation</text>
<path d="M75.7,1026.5 L23.9,1202" fill="none" stroke="#A80036" stroke-width="1" stroke-dasharray="7,7"/>
<text x="58.96" y="1100.70" font-size="13" style="font-family:&quot;Liberation Sans&quot;,sans-serif;" fill="#000000" textLength="94.26" lengthAdjust="spacingAndGlyphs">named relation</text>
<path d="M23.9,1202 C29.2,1253.3 35.7,1304.4 38.9,1355.9" fill="none" stroke="#A80036" stroke-width="1" stroke-dasharray="7,7" stroke-dashoffset="11.7"/>
<polygon points="39.5,1362.2 33.4,1352.4 38.9,1355.9 43.5,1350.5" fill="#A80036" stroke="#A80036" stroke-width="1"/>
<path d="M61.5,1202.3 L23.9,1202.3" fill="none" stroke="#A80036" stroke-width="1" stroke-dasharray="7,7"/>
<circle cx="23.9" cy="1202" r="2" fill="#000000"/>
<path d="M405.4,978.5 L352.5,382.8" fill="none" stroke="#A80036" stroke-width="1"/>
<polygon points="350.45,363.5 345.3,383.2 359.5,382.1" fill="none" stroke="#A80036" stroke-width="1"/>
<path d="M434.2,978.5 C458.7,952.3 483.9,926.9 500.5,895.0 C526.8,849.0 553.5,803.3 571.6,753.4" fill="none" stroke="#A80036" stroke-width="1"/>
<polygon points="576.3,741.8 570.1,746.3 571.5,753.4 577.9,749.4" fill="#A80036" stroke="#A80036" stroke-width="1"/>
<path d="M464.5,994.4 C537.4,983.8 609.4,969.3 680.0,949.6 C702.5,940.6 728.7,935.2 746.1,917.0" fill="none" stroke="#A80036" stroke-width="1"/>
<polygon points="754.9,909.2 747.5,910.2 746.1,917.0 753.75,916.5" fill="#A80036" stroke="#A80036" stroke-width="1"/>
</svg></body></html>
